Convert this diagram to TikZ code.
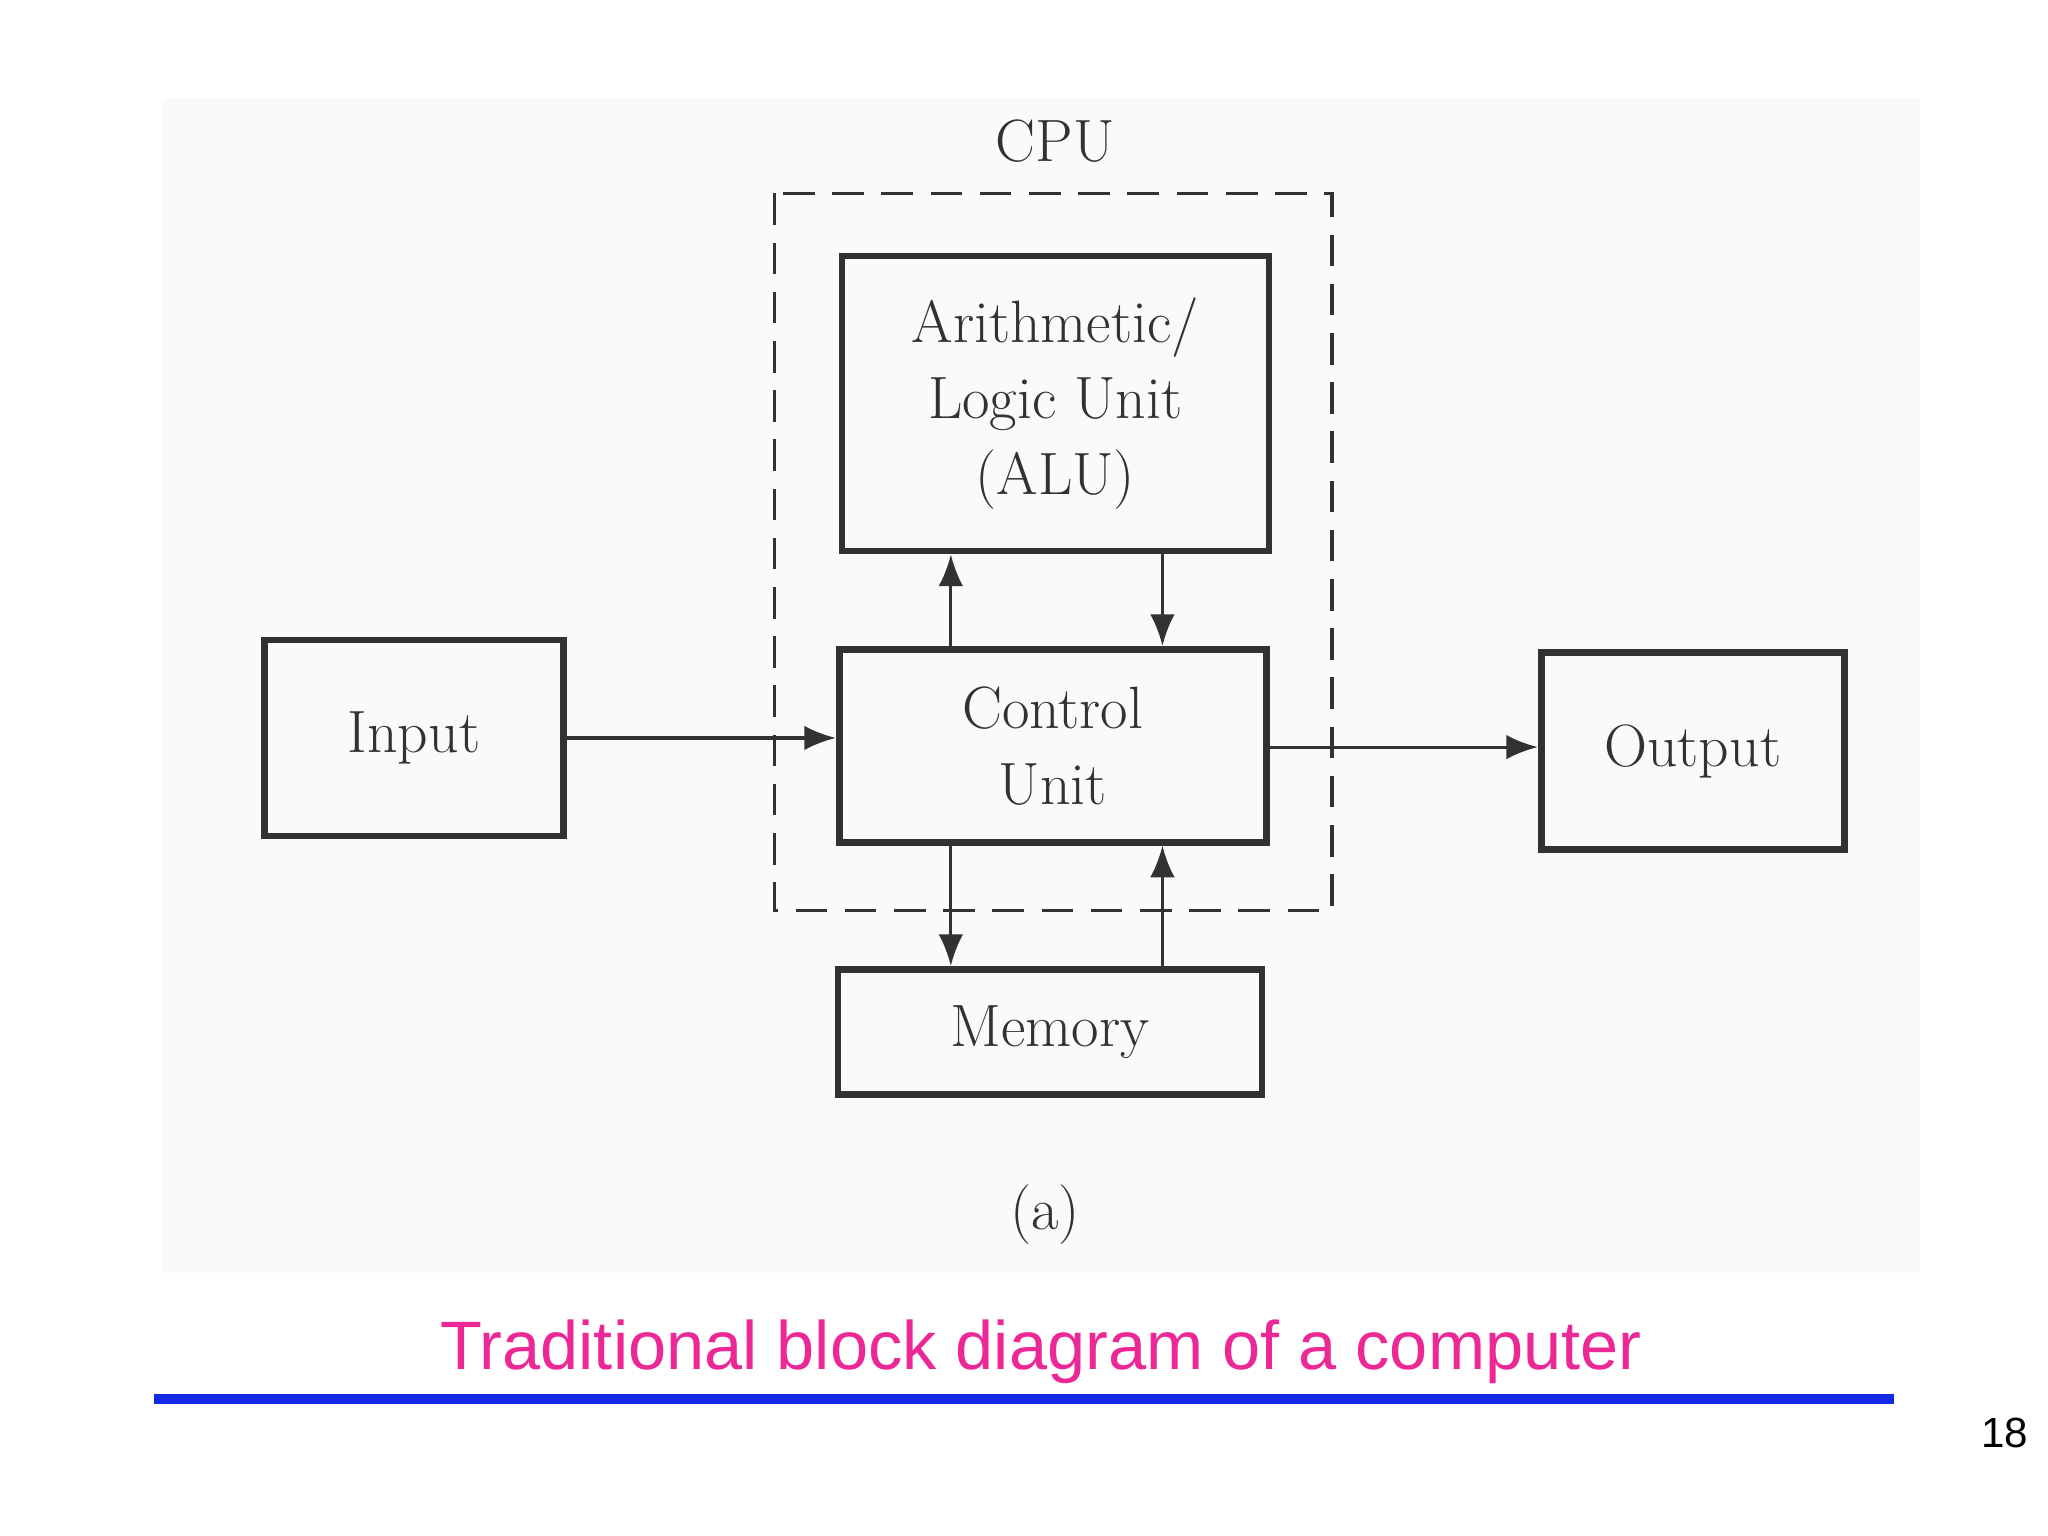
\documentclass[tikz,border=0pt]{standalone}
\usepackage{fontspec}
\newfontfamily\capfont{Liberation Sans}
\usepackage{tikz}
\usetikzlibrary{positioning,arrows.meta,calc}
\definecolor{Ink}{RGB}{50,50,50}
\definecolor{CapPink}{RGB}{236,40,150}
\definecolor{RuleBlue}{RGB}{20,40,230}

\begin{document}
\begin{tikzpicture}[x=0.01306cm, y=-0.01306cm,
    unit/.style={rectangle, draw=Ink, line width=1.9pt, inner sep=0pt, align=center, font=\fontsize{17}{21.6}\selectfont, text=Ink},
    link/.style={draw=Ink, line width=0.9pt, -{Latex[length=9pt,width=7pt]}},
    label/.style={font=\fontsize{17}{21}\selectfont, text=Ink}
]
    \useasboundingbox (0,0) rectangle (1568,1176);
    \fill[gray!4] (125,75) rectangle (1470,975);

    % CPU boundary
    \draw[Ink, line width=1pt, dash pattern=on 9pt off 5pt] (593,148) rectangle (1020,697);
    \node[label] (cpu) at (808,108) {CPU};

    % Blocks
    \node[unit, minimum width=4.27cm, minimum height=2.95cm] (alu) at (808,309) {Arithmetic/\\Logic Unit\\(ALU)};
    \node[unit, minimum width=4.27cm, minimum height=1.93cm] (ctrl) at (806,571) {Control\\Unit};
    \node[unit, minimum width=2.99cm, minimum height=1.96cm] (in) at (317,565) {Input};
    \node[unit, minimum width=3.03cm, minimum height=1.97cm] (out) at (1296,575) {Output};
    \node[unit, minimum width=4.24cm, minimum height=1.25cm] (mem) at (804,790) {Memory};

    % Connectors
    \coordinate (c1) at (728,0);
    \coordinate (c2) at (890,0);
    \coordinate (ctrlE) at (970,572);
    \coordinate (ctrlW) at (643,565);
    \draw[link] (in.east |- ctrlW) -- (ctrl.west |- ctrlW);
    \draw[link] (ctrl.east |- ctrlE) -- (out.west |- ctrlE);
    \draw[link] (c1 |- ctrl.north) -- (c1 |- alu.south);
    \draw[link] (c2 |- alu.south) -- (c2 |- ctrl.north);
    \draw[link] (c1 |- ctrl.south) -- (c1 |- mem.north);
    \draw[link] (c2 |- mem.north) -- (c2 |- ctrl.south);

    \node[label] (sub) at (800,930) {(a)};

    % Caption and rule
    \node[font=\capfont\fontsize{19.5}{24}\selectfont, text=CapPink] (cap) at (797,1035) {Traditional block diagram of a computer};
    \draw[RuleBlue, line width=3pt] (118,1071) -- (1450,1071);
    \node[font=\capfont\fontsize{12}{14}\selectfont] (pg) at (1535,1097) {18};
\end{tikzpicture}
\end{document}
